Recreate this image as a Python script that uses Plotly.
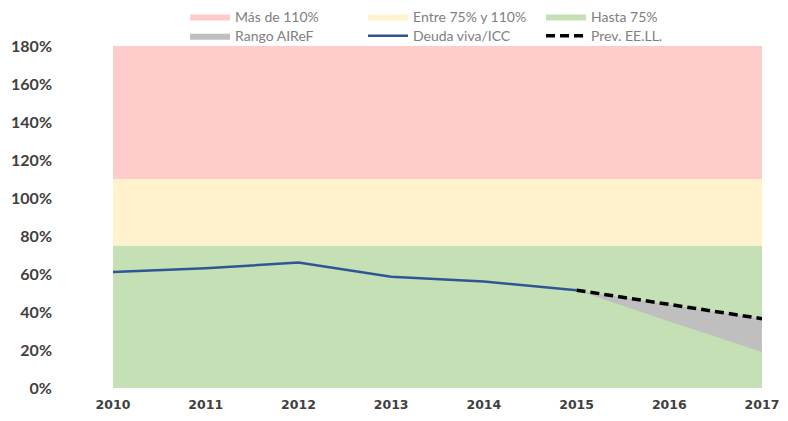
import plotly.graph_objects as go

years = [2010, 2011, 2012, 2013, 2014, 2015, 2016, 2017]
band_green = [75] * 8
band_yellow = [110] * 8
band_red = [180] * 8
deuda_years = [2010, 2011, 2012, 2013, 2014, 2015]
deuda = [61, 63, 66, 58.5, 56, 51.5]
prev_years = [2015, 2016, 2017]
prev = [51.5, 44, 36.5]
rango_low = [51.5, 35, 19]
yticks = [0, 20, 40, 60, 80, 100, 120, 140, 160, 180]
ytick_text = [f"{v}%" for v in yticks]

fig = go.Figure()
fig.add_trace(go.Scatter(x=years, y=band_green, mode="lines", line=dict(width=0),
                         fill="tozeroy", fillcolor="#C5E0B4", name="Hasta 75%",
                         legend="legend", hoverinfo="skip"))
fig.add_trace(go.Scatter(x=years, y=band_yellow, mode="lines", line=dict(width=0),
                         fill="tonexty", fillcolor="#FFF2CC", name="Entre 75% y 110%",
                         legend="legend", hoverinfo="skip"))
fig.add_trace(go.Scatter(x=years, y=band_red, mode="lines", line=dict(width=0),
                         fill="tonexty", fillcolor="#FFCCCC", name="Más de 110%",
                         legend="legend", hoverinfo="skip"))
fig.add_trace(go.Scatter(x=prev_years, y=rango_low, mode="lines", line=dict(width=0),
                         showlegend=False, legend="legend2", hoverinfo="skip"))
fig.add_trace(go.Scatter(x=prev_years, y=prev, mode="lines", line=dict(width=0),
                         fill="tonexty", fillcolor="#BFBFBF", name="Rango AIReF",
                         legend="legend2"))
fig.add_trace(go.Scatter(x=deuda_years, y=deuda, mode="lines",
                         line=dict(color="#2F5597", width=2.5), name="Deuda viva/ICC",
                         legend="legend2"))
fig.add_trace(go.Scatter(x=prev_years, y=prev, mode="lines",
                         line=dict(color="#000000", width=3.5, dash="9px,5px"),
                         name="Prev. EE.LL.", legend="legend2"))

legend_common = dict(orientation="h", xanchor="left", yanchor="middle",
                     entrywidth=123, entrywidthmode="pixels", itemwidth=40,
                     font=dict(family="Lato, sans-serif", size=14, color="#808080"),
                     bgcolor="rgba(0,0,0,0)", tracegroupgap=0)

fig.update_layout(
    width=780, height=404,
    margin=dict(l=105, r=26, t=38, b=24, autoexpand=False),
    paper_bgcolor="white", plot_bgcolor="white",
    showlegend=True,
    legend=dict(x=0.111, y=1.085, traceorder="reversed", **legend_common),
    legend2=dict(x=0.111, y=1.029, traceorder="normal", **legend_common),
    xaxis=dict(range=[2010, 2017], tickmode="array", tickvals=years,
               ticktext=[str(y) for y in years], showgrid=False, zeroline=False,
               showline=False, ticks="", ticklabelstandoff=7, ticklabeloverflow="allow",
               tickfont=dict(family="DejaVu Sans, sans-serif", size=12.5, color="#404040", weight="bold")),
    yaxis=dict(range=[0, 180], tickmode="array", tickvals=yticks, ticktext=ytick_text,
               showgrid=False, zeroline=False, showline=False, ticks="",
               ticklabelstandoff=60,
               tickfont=dict(family="Lato, sans-serif", size=16, color="#404040", weight="bold")),
)

fig.write_html("out.html")
